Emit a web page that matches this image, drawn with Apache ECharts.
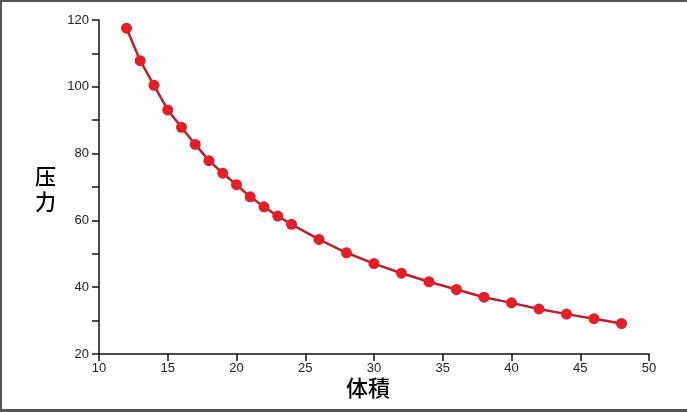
<!DOCTYPE html>
<html>
<head>
<meta charset="utf-8">
<script src="https://cdn.jsdelivr.net/npm/echarts@6/dist/echarts.min.js"></script>
<style>
html,body{margin:0;padding:0;background:#fff;}
#frame{position:absolute;left:0;top:0;width:687px;height:412px;box-sizing:border-box;border-top:2px solid #555;border-left:2px solid #555;border-bottom:3px solid #555;}
#chart{position:absolute;left:0;top:0;width:687px;height:412px;}
</style>
</head>
<body>
<div id="chart"></div>
<div id="frame"></div>
<script>
const volume = [12,13,14,15,16,17,18,19,20,21,22,23,24,26,28,30,32,34,36,38,40,42,44,46,48];
const pressure = [117.56,107.81,100.44,93.06,87.88,82.75,77.88,74.13,70.69,67.06,64.06,61.31,58.81,54.31,50.31,47.06,44.19,41.63,39.31,37.0,35.31,33.5,31.94,30.56,29.13];
const xName = '体積';
const yName = '压力';

const chart = echarts.init(document.getElementById('chart'));
const labelFont = {color:'#222', fontSize:13, fontFamily:'Liberation Sans, Arial, sans-serif'};
chart.setOption({
  animation:false,
  backgroundColor:'#fff',
  grid:{left:99, right:38, top:20, bottom:58},
  xAxis:{
    type:'value', min:10, max:50, interval:5,
    axisLine:{onZero:false, lineStyle:{color:'#111', width:1.5}},
    axisTick:{show:true, length:7, lineStyle:{color:'#111', width:1.5}},
    axisLabel:Object.assign({margin:8}, labelFont),
    splitLine:{show:false}
  },
  yAxis:{
    type:'value', min:20, max:120, interval:10,
    axisLine:{show:true, onZero:false, lineStyle:{color:'#111', width:1.5}},
    axisTick:{show:true, length:7, lineStyle:{color:'#111', width:1.5}},
    axisLabel:Object.assign({margin:10, formatter:v => (v % 20 === 0 ? String(v) : '')}, labelFont),
    splitLine:{show:false}
  },
  graphic:[
    {type:'text', left:35, top:164, style:{text:yName.split('').join('\n'), fontSize:21, lineHeight:25, fill:'#000', fontFamily:'Noto Sans CJK SC', fontWeight:500}},
    {type:'text', left:346, top:377, style:{text:xName, fontSize:22, fill:'#000', fontFamily:'Noto Sans CJK JP', fontWeight:500}}
  ],
  series:[{
    type:'line',
    data:volume.map((v,i)=>[v,pressure[i]]),
    symbol:'circle', symbolSize:11,
    lineStyle:{color:'#c01f29', width:2.5},
    itemStyle:{color:'#e31e26'},
    smooth:false
  }]
});
</script>
</body>
</html>
